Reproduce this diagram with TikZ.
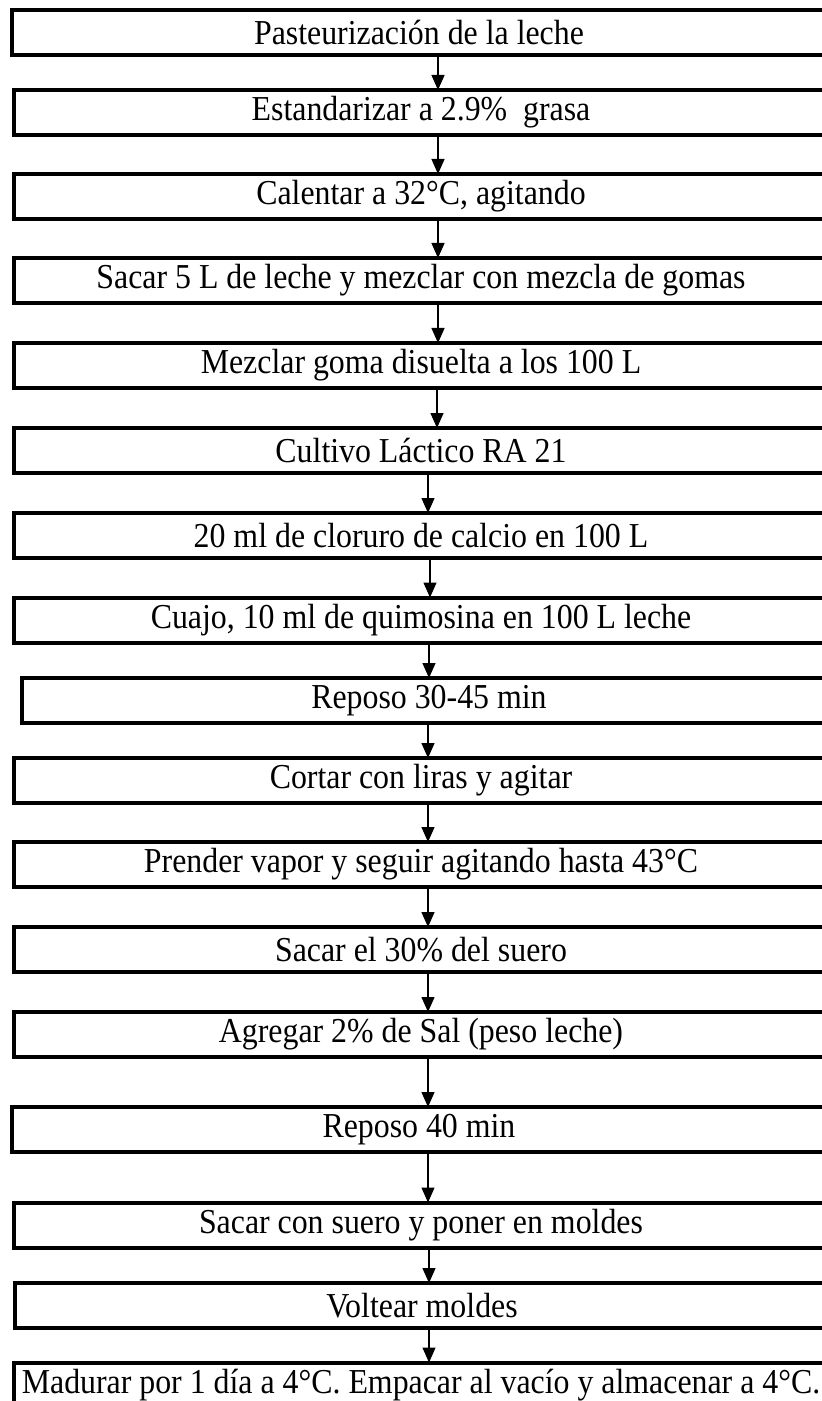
\documentclass[tikz,border=0pt]{standalone}
\usepackage{fontspec}
\setmainfont{Liberation Serif}[FakeStretch=0.91]
\usetikzlibrary{arrows.meta}
\tikzset{
  paso/.style={anchor=west, minimum width=407pt, minimum height=22.5pt,
    inner sep=0pt, outer sep=0pt, font=\fontsize{17.5}{20}\selectfont},
  caja/.style={line width=2pt},
  flecha/.style={-{Triangle[length=7.5pt,width=6.5pt]}, line width=0.65pt}
}
\begin{document}
\begin{tikzpicture}[x=0.5pt,y=-0.5pt]
    \useasboundingbox (0,0) rectangle (822,1401);
    \clip (0,0) rectangle (822,1401);
    % pasos del proceso
    \node[paso] (p1) at (12,32.5) {Pasteurización de la leche};
    \node[paso] (p2) at (14,112.5) {Estandarizar a 2.9\%\ \ grasa};
    \node[paso] (p3) at (14,196.5) {Calentar a 32°C, agitando};
    \node[paso] (p4) at (14,280.5) {Sacar 5 L de leche y mezclar con mezcla de gomas};
    \node[paso] (p5) at (14,365.5) {Mezclar goma disuelta a los 100 L};
    \node[paso] (p6) at (14,450.5) {Cultivo Láctico RA 21};
    \node[paso] (p7) at (14,535.5) {20 ml de cloruro de calcio en 100 L};
    \node[paso] (p8) at (14,620) {Cuajo, 10 ml de quimosina en 100 L leche};
    \node[paso] (p9) at (22,700.5) {Reposo 30-45 min};
    \node[paso] (p10) at (14,780.5) {Cortar con liras y agitar};
    \node[paso] (p11) at (14,864.5) {Prender vapor y seguir agitando hasta 43°C};
    \node[paso] (p12) at (14,949.5) {Sacar el 30\% del suero};
    \node[paso] (p13) at (14,1034.5) {Agregar 2\% de Sal (peso leche)};
    \node[paso] (p14) at (12,1129.5) {Reposo 40 min};
    \node[paso] (p15) at (14,1225) {Sacar con suero y poner en moldes};
    \node[paso] (p16) at (15,1305.5) {Voltear moldes};
    \node[paso] (p17) at (14,1385) {Madurar por 1 día a 4°C. Empacar al vacío y almacenar a 4°C.};
    % cajas (el lado derecho queda fuera de la hoja)
    \foreach \i in {1,...,17}
        \draw[caja] (p\i.north west) rectangle ([xshift=30pt]p\i.south east);
    % flechas
    \foreach \a/\b/\x in {1/2/438, 2/3/438, 3/4/438, 4/5/438, 5/6/437, 6/7/428,
        7/8/430, 8/9/429, 9/10/428, 10/11/428, 11/12/428, 12/13/428,
        13/14/428, 14/15/428, 15/16/429, 16/17/429}
        \draw[flecha] (\x,0 |- p\a.south) -- (\x,0 |- p\b.north);
\end{tikzpicture}
\end{document}
